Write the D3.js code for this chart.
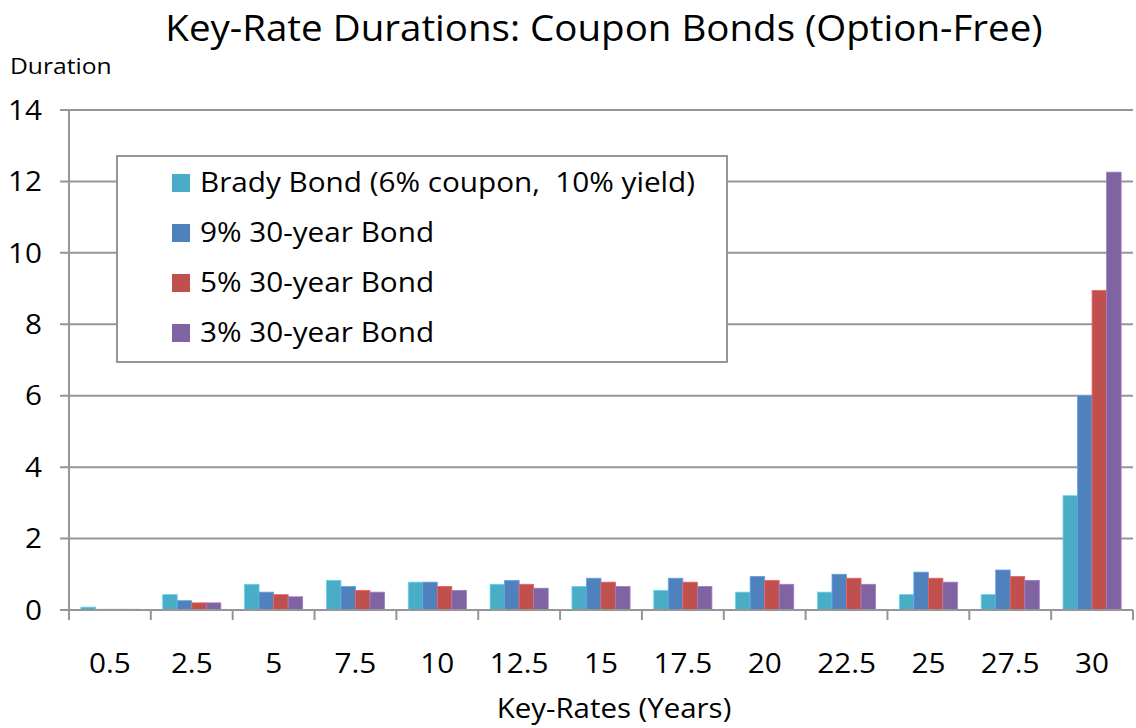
<!DOCTYPE html>
<html>
<head>
<meta charset="utf-8">
<script src="https://cdn.jsdelivr.net/npm/d3@7"></script>
<style>
  body { margin: 0; background: #fff; }
  text { font-family: "Open Sans", sans-serif; fill: #000; }
</style>
</head>
<body>
<div id="d3"></div>
<script>
var keyRates = ["0.5", "2.5", "5", "7.5", "10", "12.5", "15", "17.5", "20", "22.5", "25", "27.5", "30"];
var seriesNames = ["Brady Bond (6% coupon,  10% yield)", "9% 30-year Bond", "5% 30-year Bond", "3% 30-year Bond"];
var brady = [0.08, 0.43, 0.72, 0.83, 0.78, 0.72, 0.66, 0.55, 0.50, 0.50, 0.43, 0.43, 3.2];
var bond9 = [0.02, 0.26, 0.50, 0.66, 0.78, 0.83, 0.89, 0.89, 0.94, 1.00, 1.06, 1.12, 6.0];
var bond5 = [0.02, 0.20, 0.43, 0.55, 0.66, 0.72, 0.78, 0.78, 0.83, 0.89, 0.89, 0.94, 8.95];
var bond3 = [0.02, 0.20, 0.37, 0.50, 0.55, 0.61, 0.66, 0.66, 0.72, 0.72, 0.78, 0.83, 12.26];
var yTicks = [0, 2, 4, 6, 8, 10, 12, 14];
var colors = ["#4BACC6", "#4F81BD", "#C0504D", "#8064A2"];

var allSeries = [brady, bond9, bond5, bond3];
var data = keyRates.map(function(k, i) {
    return { rate: k, values: allSeries.map(function(s, j) { return { key: j, value: s[i] }; }) };
});

var width = 1136, height = 728;
var margin = { left: 69, right: 3, top: 110, bottom: 118 };
var w = width - margin.left - margin.right;
var h = height - margin.top - margin.bottom;

// text in the original is a touch wider than Open Sans, stretch it a bit
function wideText(sel, x, y, sx) {
    return sel.attr("transform", "translate(" + x + "," + y + ") scale(" + sx + ",1)");
}

var svg = d3.select("#d3").append("svg").attr("width", width).attr("height", height);
var chartGroup = svg.append("g").attr("transform", "translate(" + margin.left + "," + margin.top + ")");

var x0 = d3.scaleBand().domain(keyRates).range([0, w]).paddingInner(0.29).paddingOuter(0.145);
var x1 = d3.scaleBand().domain([0, 1, 2, 3]).range([0, x0.bandwidth()]);
var y = d3.scaleLinear().domain([0, 14]).range([h, 0]);
var xEdges = d3.scaleLinear().domain([0, keyRates.length]).range([0, w]);

// gridlines
chartGroup.append("g").selectAll("line").data(yTicks).enter().append("line")
    .attr("x1", -9).attr("x2", w)
    .attr("y1", function(d) { return y(d); }).attr("y2", function(d) { return y(d); })
    .attr("stroke", "#969696").attr("stroke-width", 2);

// y axis line
chartGroup.append("line").attr("x1", 0).attr("x2", 0).attr("y1", 0).attr("y2", h)
    .attr("stroke", "#969696").attr("stroke-width", 2);

// x category tick marks
chartGroup.append("g").selectAll("line").data(d3.range(keyRates.length + 1)).enter().append("line")
    .attr("x1", function(d) { return xEdges(d); }).attr("x2", function(d) { return xEdges(d); })
    .attr("y1", h).attr("y2", h + 10)
    .attr("stroke", "#969696").attr("stroke-width", 2);

// bars
var groups = chartGroup.append("g").selectAll("g").data(data).enter().append("g")
    .attr("transform", function(d) { return "translate(" + x0(d.rate) + ",0)"; });
groups.selectAll("rect").data(function(d) { return d.values; }).enter().append("rect")
    .attr("x", function(d) { return x1(d.key); })
    .attr("width", x1.bandwidth())
    .attr("y", function(d) { return y(d.value); })
    .attr("height", function(d) { return h - y(d.value); })
    .attr("fill", function(d) { return colors[d.key]; })
    .attr("stroke", function(d) { return d3.color(colors[d.key]).brighter(0.6); })
    .attr("stroke-width", 0.8);

// x axis baseline
chartGroup.append("line").attr("x1", 0).attr("x2", w).attr("y1", h).attr("y2", h)
    .attr("stroke", "#969696").attr("stroke-width", 2);

// y tick labels
chartGroup.append("g").selectAll("text").data(yTicks).enter().append("text")
    .attr("transform", function(d) { return "translate(-27," + y(d) + ") scale(1.1,1)"; })
    .attr("dy", "0.36em").attr("text-anchor", "end").attr("font-size", 27)
    .text(function(d) { return d; });

// x tick labels
chartGroup.append("g").selectAll("text").data(keyRates).enter().append("text")
    .attr("transform", function(d) { return "translate(" + (x0(d) + x0.bandwidth() / 2) + "," + (h + 53) + ") scale(1.1,1)"; })
    .attr("dy", "0.36em").attr("text-anchor", "middle").attr("font-size", 27)
    .text(function(d) { return d; });

// titles
wideText(svg.append("text"), 604, 41, 1.07).attr("text-anchor", "middle").attr("font-size", 36)
    .text("Key-Rate Durations: Coupon Bonds (Option-Free)");
wideText(svg.append("text"), 10, 74, 1.12).attr("font-size", 22).text("Duration");
wideText(svg.append("text"), 614, 718, 1.09).attr("text-anchor", "middle").attr("font-size", 27)
    .text("Key-Rates (Years)");

// legend
var legend = svg.append("g").attr("transform", "translate(117,156)");
legend.append("rect").attr("width", 610).attr("height", 206)
    .attr("fill", "#fff").attr("stroke", "#969696").attr("stroke-width", 2);
var items = legend.selectAll("g.item").data(seriesNames).enter().append("g").attr("class", "item")
    .attr("transform", function(d, i) { return "translate(55," + (27 + i * 50) + ")"; });
items.append("rect").attr("x", 0).attr("y", -9).attr("width", 18).attr("height", 18)
    .attr("fill", function(d, i) { return colors[i]; });
items.append("text").attr("transform", "translate(28,0) scale(1.1,1)").attr("dy", "0.35em").attr("font-size", 27)
    .attr("xml:space", "preserve").style("white-space", "pre")
    .text(function(d) { return d; });
</script>
</body>
</html>
